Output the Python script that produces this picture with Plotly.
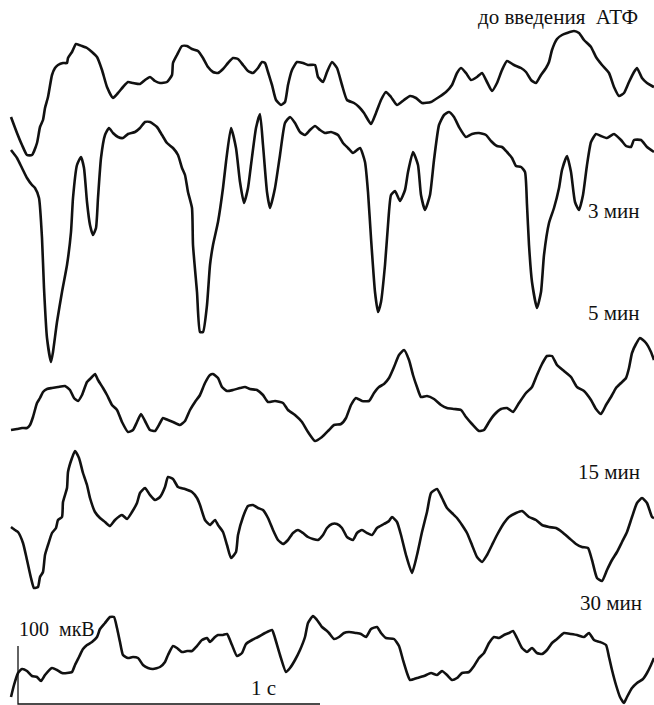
import plotly.graph_objects as go

# EEG traces, sampled along a common time axis (x) with amplitude in plot units (y, downward)
labels = ["до введения  АТФ", "3 мин", "5 мин", "15 мин", "30 мин"]

x_before = [11, 17, 22, 27, 32, 37, 40, 43, 45, 48, 52, 55, 58, 63, 67, 68, 72, 76, 82, 87, 92, 97, 102, 107, 113,
            118, 123, 128, 133, 140, 145, 150, 155, 160, 167, 172, 173, 177, 182, 187, 192, 198, 203, 208, 213,
            218, 223, 228, 233, 238, 243, 248, 253, 258, 262, 265, 268, 272, 276, 281, 285, 288, 292, 297, 303,
            308, 315, 318, 323, 327, 332, 337, 342, 347, 354, 359, 364, 371, 376, 381, 386, 391, 397, 404, 410,
            416, 422, 431, 439, 446, 452, 457, 461, 466, 471, 477, 482, 487, 492, 497, 502, 507, 514, 521, 526,
            531, 536, 541, 546, 549, 552, 557, 562, 567, 574, 579, 584, 591, 596, 602, 609, 614, 619, 624, 629,
            634, 637, 642, 647, 652, 654]
y_before = [117, 133, 145, 155, 155, 143, 127, 120, 108, 97, 75, 68, 65, 63, 63, 58, 52, 44, 46, 48, 52, 57, 70, 87,
            98, 93, 87, 82, 83, 84, 80, 77, 81, 83, 82, 75, 63, 55, 46, 46, 49, 51, 58, 67, 72, 73, 69, 63, 58,
            59, 65, 71, 73, 68, 62, 63, 72, 85, 100, 105, 102, 85, 70, 62, 63, 65, 65, 77, 82, 72, 62, 68, 85,
            100, 103, 107, 113, 124, 113, 100, 92, 97, 105, 100, 96, 98, 103, 102, 97, 92, 85, 73, 68, 73, 80,
            77, 73, 82, 91, 83, 70, 61, 65, 68, 72, 80, 83, 75, 68, 62, 50, 39, 35, 33, 31, 33, 40, 47, 57, 65,
            73, 87, 96, 93, 82, 72, 68, 78, 83, 86, 87]

x_3min = [11, 17, 22, 27, 32, 35, 39, 42, 44, 47, 51, 53, 57, 62, 67, 71, 73, 77, 81, 84, 87, 90, 93, 96, 98, 101,
          105, 109, 113, 118, 123, 128, 135, 140, 145, 150, 157, 162, 167, 173, 178, 182, 185, 188, 192, 193, 197,
          200, 203, 207, 210, 213, 218, 223, 226, 231, 236, 240, 244, 248, 251, 256, 260, 263, 267, 270, 275, 280,
          285, 290, 295, 300, 305, 310, 315, 320, 325, 331, 338, 343, 348, 353, 360, 365, 368, 371, 375, 378, 381,
          385, 388, 391, 395, 400, 405, 408, 413, 418, 421, 425, 430, 434, 439, 444, 449, 454, 459, 466, 472, 479,
          486, 491, 497, 502, 507, 512, 516, 521, 525, 527, 529, 532, 537, 541, 544, 549, 554, 559, 562, 567, 571,
          575, 579, 583, 587, 591, 596, 601, 607, 614, 621, 626, 631, 634, 641, 647, 654]
y_3min = [150, 158, 168, 178, 185, 188, 198, 238, 288, 338, 362, 352, 322, 292, 265, 232, 198, 165, 157, 168, 202,
          225, 235, 228, 198, 158, 135, 128, 133, 137, 138, 134, 132, 128, 122, 122, 127, 135, 143, 148, 155, 168,
          175, 192, 208, 245, 292, 332, 332, 305, 265, 245, 222, 188, 162, 128, 148, 182, 203, 188, 165, 128, 114,
          145, 192, 208, 188, 155, 123, 117, 123, 132, 135, 130, 126, 130, 133, 132, 135, 143, 148, 153, 148, 162,
          192, 238, 292, 312, 302, 265, 225, 195, 191, 201, 190, 172, 152, 165, 195, 210, 195, 160, 125, 115, 112,
          117, 127, 137, 134, 133, 135, 141, 146, 147, 152, 158, 166, 167, 172, 205, 245, 282, 308, 292, 255, 223,
          208, 188, 170, 156, 172, 202, 210, 195, 165, 142, 134, 136, 138, 134, 140, 146, 147, 140, 140, 147, 152]

x_5min = [11, 17, 22, 27, 30, 33, 37, 40, 43, 47, 52, 58, 65, 70, 74, 78, 82, 87, 92, 95, 98, 103, 107, 112, 117,
          122, 128, 133, 137, 141, 145, 150, 155, 160, 163, 168, 173, 180, 185, 190, 195, 200, 205, 210, 213, 218,
          222, 227, 233, 240, 245, 250, 257, 263, 268, 275, 283, 288, 295, 302, 308, 315, 322, 329, 334, 341, 346,
          351, 356, 362, 369, 374, 379, 384, 389, 394, 399, 404, 409, 413, 417, 421, 427, 434, 441, 447, 454, 461,
          466, 472, 479, 484, 489, 494, 501, 507, 513, 519, 526, 532, 537, 542, 547, 552, 557, 564, 571, 577, 584,
          591, 596, 601, 606, 611, 616, 621, 626, 629, 632, 636, 640, 646, 651, 654]
y_5min = [430, 429, 428, 428, 425, 417, 403, 398, 392, 389, 388, 387, 386, 390, 398, 401, 395, 382, 377, 374, 380,
          388, 395, 405, 410, 422, 432, 430, 422, 414, 421, 430, 431, 423, 418, 420, 422, 425, 421, 410, 402, 395,
          383, 375, 374, 378, 387, 391, 390, 388, 387, 389, 390, 395, 402, 401, 403, 410, 415, 422, 432, 441, 437,
          430, 425, 424, 418, 405, 398, 401, 401, 393, 387, 384, 378, 367, 355, 350, 360, 375, 387, 397, 396, 399,
          405, 408, 409, 410, 417, 424, 431, 430, 422, 415, 409, 408, 412, 403, 393, 387, 375, 364, 356, 356, 365,
          371, 377, 387, 391, 400, 409, 414, 405, 397, 388, 383, 378, 368, 353, 344, 338, 343, 352, 360]

x_15min = [11, 15, 18, 23, 27, 31, 34, 38, 40, 43, 45, 48, 52, 56, 58, 62, 63, 67, 68, 72, 75, 79, 83, 87, 90, 95,
           100, 105, 110, 115, 122, 127, 132, 137, 140, 145, 150, 155, 160, 165, 168, 173, 178, 185, 192, 197, 200,
           205, 210, 215, 218, 223, 227, 231, 236, 238, 243, 248, 253, 258, 263, 268, 273, 278, 283, 288, 293, 298,
           303, 308, 313, 318, 323, 327, 332, 337, 342, 347, 353, 357, 362, 367, 372, 377, 384, 389, 392, 397, 401,
           406, 412, 417, 422, 427, 431, 437, 442, 447, 452, 457, 462, 467, 472, 477, 482, 487, 492, 497, 504, 509,
           516, 522, 529, 536, 542, 549, 556, 562, 569, 576, 582, 588, 592, 597, 602, 607, 612, 617, 622, 627, 632,
           637, 642, 647, 652, 654]
y_15min = [527, 530, 532, 543, 560, 578, 588, 587, 577, 572, 555, 545, 533, 528, 520, 517, 502, 488, 472, 458, 451,
           458, 473, 485, 498, 512, 518, 522, 526, 520, 515, 519, 512, 503, 493, 488, 495, 500, 497, 487, 477, 479,
           487, 489, 492, 498, 505, 520, 525, 520, 525, 532, 545, 558, 552, 535, 517, 506, 505, 508, 510, 518, 530,
           540, 544, 540, 533, 530, 533, 537, 539, 540, 535, 528, 524, 524, 528, 537, 540, 533, 530, 533, 535, 528,
           524, 521, 517, 522, 535, 555, 573, 555, 532, 512, 493, 489, 498, 508, 513, 518, 525, 533, 545, 557, 562,
           555, 545, 535, 523, 517, 513, 511, 517, 520, 525, 527, 528, 532, 538, 544, 547, 548, 560, 578, 581, 570,
           560, 552, 542, 532, 517, 503, 498, 503, 517, 518]

x_30min = [11, 14, 18, 22, 27, 32, 37, 41, 45, 52, 57, 62, 67, 72, 75, 79, 83, 87, 92, 97, 100, 105, 110, 114, 117,
           120, 123, 128, 133, 138, 143, 148, 153, 160, 165, 168, 173, 177, 182, 187, 192, 197, 202, 207, 210, 215,
           218, 223, 227, 232, 237, 242, 246, 252, 258, 265, 272, 275, 280, 286, 290, 295, 300, 305, 308, 313, 317,
           322, 327, 329, 334, 339, 344, 349, 356, 361, 366, 371, 377, 381, 386, 394, 399, 403, 407, 410, 417, 424,
           431, 437, 442, 447, 452, 457, 462, 469, 474, 479, 484, 489, 494, 499, 504, 509, 513, 517, 522, 527, 532,
           537, 542, 547, 552, 557, 564, 571, 577, 584, 589, 594, 600, 606, 609, 612, 616, 620, 624, 627, 632, 637,
           643, 647, 651, 654]
y_30min = [697, 685, 673, 669, 671, 676, 677, 681, 675, 668, 670, 673, 673, 672, 665, 657, 649, 645, 642, 637, 629,
           623, 617, 617, 628, 642, 655, 658, 657, 658, 665, 668, 669, 667, 662, 655, 646, 648, 652, 651, 651, 646,
           640, 638, 642, 637, 635, 635, 634, 645, 656, 653, 644, 640, 637, 633, 630, 638, 655, 672, 668, 660, 650,
           637, 623, 616, 620, 627, 631, 633, 639, 637, 633, 632, 633, 634, 637, 629, 627, 633, 638, 639, 646, 660,
           673, 680, 678, 676, 673, 675, 671, 675, 680, 678, 673, 672, 666, 658, 653, 643, 637, 638, 635, 633, 631,
           638, 648, 652, 648, 653, 654, 650, 643, 639, 633, 634, 635, 637, 633, 640, 642, 645, 657, 670, 685, 697,
           703, 697, 688, 683, 679, 673, 665, 658]

series = [(x_before, y_before), (x_3min, y_3min), (x_5min, y_5min), (x_15min, y_15min), (x_30min, y_30min)]

# Calibration bar: 100 мкВ vertical, 1 с horizontal
cal_origin = (18, 704)
cal_uv_len = 58
cal_sec_len = 302

fig = go.Figure()
for xs, ys in series:
    fig.add_trace(go.Scatter(x=xs, y=ys, mode="lines",
                             line=dict(color="#111111", width=2.6, shape="spline", smoothing=0.5),
                             hoverinfo="skip", showlegend=False))

ox, oy = cal_origin
fig.add_trace(go.Scatter(x=[ox, ox, ox + cal_sec_len], y=[oy - cal_uv_len, oy, oy], mode="lines",
                         line=dict(color="#111111", width=1.3), hoverinfo="skip", showlegend=False))

serif = "Liberation Serif"
label_pos = [(640, 17), (642, 211), (642, 313), (642, 472), (644, 603)]
annotations = []
for text, (lx, ly) in zip(labels, label_pos):
    annotations.append(dict(x=lx, y=ly, text=text, showarrow=False, xanchor="right", yanchor="middle",
                            font=dict(family=serif, size=21, color="#111111")))
annotations.append(dict(x=ox - 1, y=oy - cal_uv_len - 17, text="100  мкВ", showarrow=False, xanchor="left",
                        yanchor="middle", font=dict(family=serif, size=20, color="#111111")))
annotations.append(dict(x=249, y=oy - 16, text="1 с", showarrow=False, xanchor="left",
                        yanchor="middle", font=dict(family=serif, size=21, color="#111111")))

fig.update_layout(
    width=654, height=705,
    margin=dict(l=0, r=0, t=0, b=0),
    paper_bgcolor="white", plot_bgcolor="white",
    xaxis=dict(range=[0, 654], visible=False, fixedrange=True),
    yaxis=dict(range=[705, 0], visible=False, fixedrange=True),
    annotations=annotations,
)

fig.write_html("out.html")
